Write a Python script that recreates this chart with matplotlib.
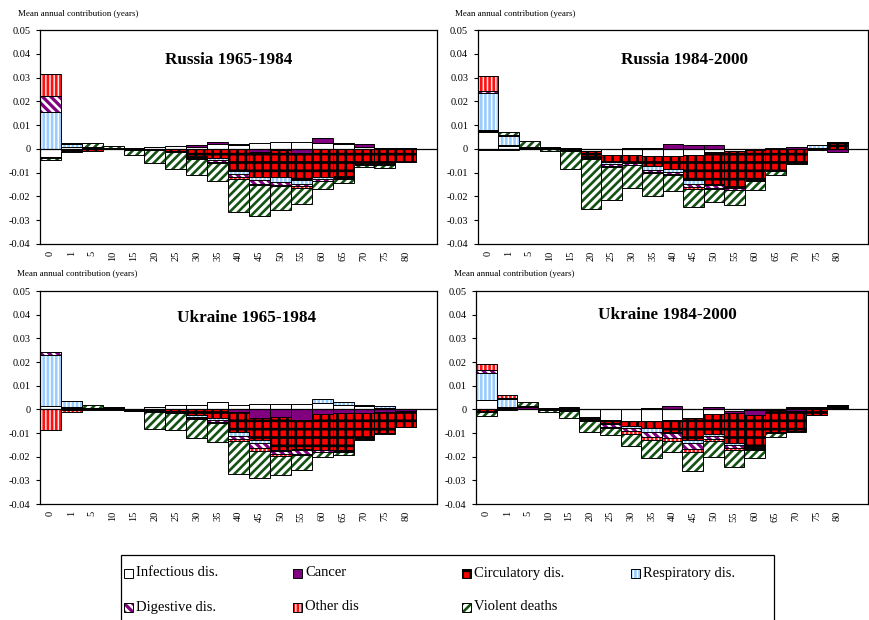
import numpy as np
import matplotlib.pyplot as plt
from matplotlib.patches import Rectangle

plt.rcParams['font.family'] = ['Liberation Serif', 'DejaVu Serif']
plt.rcParams['hatch.linewidth'] = 1.9

# age groups
ages = ['0', '1', '5', '10', '15', '20', '25', '30', '35', '40', '45', '50', '55', '60', '65', '70', '75', '80']
causes = ['Infectious dis.', 'Cancer', 'Circulatory dis.', 'Respiratory dis.',
          'Digestive dis.', 'Other dis', 'Violent deaths']

# Russia 1965-1984
rus1_inf = [-0.0035, 0.0006, 0.0003, 0.0002, 0.0002, 0.0006, 0.0014, 0.0009, 0.002, 0.0018, 0.0023, 0.003, 0.003, 0.0025, 0.002, 0.0008, 0.0004, 0.0002]
rus1_can = [0.0, 0.0002, 0.0002, 0.0001, 0.0001, 0.0003, -0.0002, 0.0008, 0.001, 0.0001, -0.0011, -0.0003, -0.0017, 0.0019, 0.0003, 0.0012, 0.0001, 0.0001]
rus1_cir = [-0.0002, -0.0005, -0.0007, -0.0001, -0.0001, -0.0002, -0.0005, -0.0028, -0.0039, -0.0092, -0.0109, -0.0115, -0.0115, -0.0118, -0.0115, -0.0063, -0.0065, -0.0055]
rus1_res = [0.0156, 0.0012, 0.0002, 0.0001, -0.0001, -0.0001, -0.0002, -0.0005, -0.0007, -0.0014, -0.0012, -0.0021, -0.0015, -0.0008, -0.0004, -0.0002, -0.0002, 0.0]
rus1_dig = [0.0066, 0.0003, 0.0001, 0.0, -0.0001, -0.0002, -0.0003, -0.0005, -0.0008, -0.0011, -0.0015, -0.0011, -0.0011, -0.0007, -0.0004, -0.0001, 0.0, 0.0]
rus1_oth = [0.0095, -0.0003, 0.0001, 0.0, -0.0001, -0.0001, -0.0002, -0.0004, -0.0004, -0.0008, -0.0006, -0.0006, -0.0008, -0.0003, -0.0003, 0.0, 0.0, 0.0]
rus1_vio = [-0.0011, -0.0003, 0.0015, 0.001, -0.0022, -0.0052, -0.0069, -0.0066, -0.0078, -0.0139, -0.0128, -0.0101, -0.0065, -0.0031, -0.0016, -0.001, -0.0013, -0.0001]

# Russia 1984-2000
rus2_inf = [0.0072, 0.0012, 0.0003, 0.0002, 0.0002, -0.001, -0.0025, -0.0025, -0.003, -0.0028, -0.0027, -0.0015, -0.001, 0.0001, 0.0002, 0.0001, 0.0002, 0.0]
rus2_can = [0.0003, 0.0003, 0.0002, 0.0003, 0.0002, 0.0001, 0.0001, 0.0002, 0.0005, 0.0022, 0.0015, 0.0017, 0.0001, -0.0004, -0.0002, 0.0005, 0.0001, -0.0015]
rus2_cir = [0.0003, -0.0006, 0.0001, 0.0001, -0.0002, -0.002, -0.003, -0.003, -0.0042, -0.0055, -0.0103, -0.0131, -0.015, -0.0121, -0.0088, -0.0055, -0.0002, 0.0025]
rus2_res = [0.0158, 0.004, 0.0002, 0.0001, -0.0001, -0.0005, -0.0008, -0.0006, -0.0015, -0.0014, -0.0018, -0.0007, -0.0004, -0.0003, -0.0002, -0.0001, 0.0012, 0.0005]
rus2_dig = [0.0008, 0.0002, 0.0001, 0.0001, -0.0002, -0.0005, -0.0008, -0.0005, -0.0012, -0.001, -0.0013, -0.001, -0.0007, -0.0003, -0.0002, -0.0001, 0.0, 0.0]
rus2_oth = [0.0062, 0.0001, 0.0001, 0.0, -0.0002, -0.0003, -0.0004, -0.0003, -0.0004, -0.0004, -0.0006, -0.0004, -0.0004, -0.0002, -0.0001, -0.0001, 0.0, 0.0]
rus2_vio = [-0.0003, 0.0014, 0.0022, -0.0008, -0.0076, -0.021, -0.0139, -0.0095, -0.0094, -0.0066, -0.0079, -0.0058, -0.006, -0.0038, -0.0015, -0.0006, -0.0001, 0.0]

# Ukraine 1965-1984
ukr1_inf = [0.0015, 0.0008, 0.0002, 0.0002, -0.0001, 0.001, 0.0019, 0.0019, 0.003, 0.002, 0.0022, 0.0022, 0.0022, 0.0025, 0.0018, 0.0015, 0.0008, 0.0002]
ukr1_can = [0.0, 0.0001, 0.0002, 0.0005, 0.0001, 0.0001, 0.0001, 0.0001, 0.0, -0.0013, -0.0035, -0.0034, -0.0046, -0.002, -0.0015, -0.0016, -0.0009, -0.0006]
ukr1_cir = [0.0, -0.0003, 0.0001, 0.0002, -0.0001, -0.0003, -0.0005, -0.0024, -0.0038, -0.0084, -0.0094, -0.0136, -0.0123, -0.0151, -0.0156, -0.0106, -0.0092, -0.0068]
ukr1_res = [0.0217, 0.0026, 0.0001, 0.0001, -0.0001, -0.0002, -0.0003, -0.0006, -0.0007, -0.0014, -0.0011, -0.0005, -0.0004, 0.0017, 0.0015, 0.0004, 0.0006, 0.0]
ukr1_dig = [0.0011, 0.0001, 0.0, 0.0001, -0.0001, -0.0002, -0.0003, -0.0006, -0.0009, -0.0015, -0.0024, -0.0014, -0.0014, -0.0008, -0.0006, -0.0002, 0.0, 0.0]
ukr1_oth = [-0.0087, -0.001, -0.0004, -0.0001, -0.0003, -0.0002, -0.0003, -0.0004, -0.0004, -0.0007, -0.001, -0.0007, -0.0007, -0.0003, -0.0003, 0.0, 0.0, 0.0]
ukr1_vio = [0.0, 0.0, 0.0012, 0.0001, -0.0001, -0.0074, -0.0073, -0.008, -0.0078, -0.0139, -0.0114, -0.0081, -0.0062, -0.002, -0.0012, -0.0006, -0.0002, -0.0002]

# Ukraine 1984-2000
ukr2_inf = [0.0039, 0.0002, 0.0002, 0.0001, 0.0002, -0.003, -0.0045, -0.0048, -0.0048, -0.0045, -0.0035, -0.002, -0.0005, -0.0003, 0.0001, 0.0001, 0.0004, 0.0002]
ukr2_can = [0.0001, 0.0002, 0.0008, 0.0002, 0.0002, 0.0001, 0.0001, 0.0001, 0.0005, 0.0014, 0.0001, 0.0012, -0.0011, -0.0022, -0.0003, -0.0008, 0.0001, 0.0002]
ukr2_cir = [-0.0011, 0.0008, 0.0002, 0.0001, -0.0002, -0.0008, -0.0011, -0.0022, -0.0032, -0.0049, -0.0094, -0.0086, -0.0127, -0.0133, -0.0091, -0.0085, -0.0022, 0.0006]
ukr2_res = [0.0112, 0.0034, 0.0001, 0.0, -0.0001, -0.0003, -0.0005, -0.0007, -0.0014, -0.0007, -0.0011, -0.0006, -0.0007, -0.0003, -0.0002, 0.0003, 0.0005, 0.0005]
ukr2_dig = [0.0014, 0.0002, 0.0, -0.0001, -0.0002, -0.0005, -0.0012, -0.0016, -0.0021, -0.0021, -0.0028, -0.0014, -0.0011, -0.0005, -0.0002, 0.0002, 0.0, 0.0002]
ukr2_oth = [0.0024, 0.0012, 0.0, -0.0001, 0.0005, -0.0004, -0.0006, -0.0012, -0.0014, -0.0011, -0.001, -0.0006, -0.001, -0.0004, -0.0001, 0.0003, 0.0, 0.0001]
ukr2_vio = [-0.0016, -0.0002, 0.0018, -0.0007, -0.0033, -0.0044, -0.0028, -0.0048, -0.0075, -0.0045, -0.0082, -0.007, -0.0071, -0.0034, -0.0016, -0.0004, -0.0001, 0.0]

# face colour, hatch, hatch colour for each cause
styles = [
    ('white', '', 'white'),
    ('#800080', '', '#800080'),
    ('#ff0000', '++', 'black'),
    ('white', '||||', '#99ccff'),
    ('#800080', '\\\\\\\\', 'white'),
    ('#ffe8e8', '||||', '#ff1010'),
    ('white', '////', '#145214'),
]

panels = [
    ('Russia 1965-1984', [rus1_inf, rus1_can, rus1_cir, rus1_res, rus1_dig, rus1_oth, rus1_vio],
     [0.046, 0.6065, 0.457, 0.345], (0.476, 0.86), (18, 14)),
    ('Russia 1984-2000', [rus2_inf, rus2_can, rus2_cir, rus2_res, rus2_dig, rus2_oth, rus2_vio],
     [0.550, 0.6065, 0.449, 0.345], (0.53, 0.86), (455, 14)),
    ('Ukraine 1965-1984', [ukr1_inf, ukr1_can, ukr1_cir, ukr1_res, ukr1_dig, ukr1_oth, ukr1_vio],
     [0.046, 0.187, 0.457, 0.3435], (0.52, 0.873), (17, 274)),
    ('Ukraine 1984-2000', [ukr2_inf, ukr2_can, ukr2_cir, ukr2_res, ukr2_dig, ukr2_oth, ukr2_vio],
     [0.548, 0.187, 0.451, 0.3435], (0.487, 0.887), (454, 274)),
]

W, H = 869, 620
fig = plt.figure(figsize=(W / 100, H / 100), dpi=100)

x = np.arange(len(ages))
for title, series, pos, tpos, lpos in panels:
    ax = fig.add_axes(pos)
    pos_cum = np.zeros(len(ages))
    neg_cum = np.zeros(len(ages))
    for vals, (fc, h, hc) in zip(series, styles):
        vals = np.array(vals)
        bottom = np.where(vals >= 0, pos_cum, neg_cum)
        # hatch pass, then black outline pass
        ax.bar(x, vals, bottom=bottom, width=1.0, color=fc, hatch=h, edgecolor=hc, linewidth=0)
        ax.bar(x, vals, bottom=bottom, width=1.0, fill=False, edgecolor='black', linewidth=0.7)
        pos_cum += np.where(vals >= 0, vals, 0)
        neg_cum += np.where(vals < 0, vals, 0)
    ax.axhline(0, color='black', lw=0.9)
    ax.set_xlim(-0.5, 18.5)
    ax.set_ylim(-0.04, 0.05)
    yt = np.arange(-0.04, 0.051, 0.01)
    ax.set_yticks(yt)
    ax.set_yticklabels(['%.2f' % v if abs(v) > 1e-9 else '0' for v in yt], fontsize=7.5)
    ax.set_xticks(x)
    ax.set_xticklabels(ages, rotation=90, fontsize=7.5)
    ax.tick_params(axis='x', length=0, pad=5)
    ax.tick_params(axis='y', length=3, width=0.8, direction='out', pad=4)
    for s in ax.spines.values():
        s.set_linewidth(0.9)
    ax.text(tpos[0], tpos[1], title, transform=ax.transAxes, ha='center', va='center',
            fontsize=12.3, fontweight='bold')
    fig.text(lpos[0] / W, 1 - lpos[1] / H, 'Mean annual contribution (years)',
             fontsize=6.5, ha='left', va='center')

# legend drawn by hand: box running off the bottom edge
fig.patches.append(Rectangle((121 / W, -0.05), (774 - 121) / W, 0.05 + (620 - 555) / H,
                             transform=fig.transFigure, fill=False, edgecolor='black', lw=0.9))
cols = [124, 293, 462, 631]
rows = [573, 607]
for i, (name, (fc, h, hc)) in enumerate(zip(causes, styles)):
    cx = cols[i % 4]
    cy = rows[i // 4]
    sq = 9
    fig.patches.append(Rectangle((cx / W, 1 - (cy + sq / 2) / H), sq / W, sq / H,
                                 transform=fig.transFigure, facecolor=fc, hatch=h,
                                 edgecolor=hc, lw=0))
    fig.patches.append(Rectangle((cx / W, 1 - (cy + sq / 2) / H), sq / W, sq / H,
                                 transform=fig.transFigure, fill=False, edgecolor='black', lw=0.7))
    fig.text((cx + sq + 3) / W, 1 - cy / H, name, fontsize=10.5, ha='left', va='center')

fig.savefig('out.png', dpi=100)
